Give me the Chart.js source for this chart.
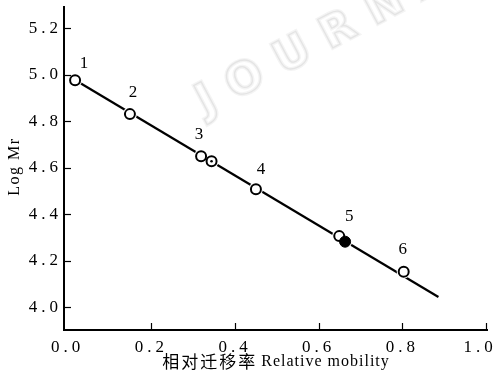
<!DOCTYPE html>
<html>
<head>
<meta charset="utf-8">
<script src="https://cdn.jsdelivr.net/npm/chart.js@4.4.1/dist/chart.umd.min.js"></script>
<style>
  html, body { margin: 0; padding: 0; background: #ffffff; }
  #wrap { width: 496px; height: 381px; }
</style>
</head>
<body>
<div id="wrap"><canvas id="c" width="496" height="381"></canvas></div>
<script>
// ---- data ----
const xTickValues = [0.0, 0.2, 0.4, 0.6, 0.8, 1.0];
const yTickValues = [4.0, 4.2, 4.4, 4.6, 4.8, 5.0, 5.2];
const mobility = [0.018, 0.149, 0.319, 0.344, 0.450, 0.649, 0.663, 0.803];
const logMr    = [4.977, 4.831, 4.650, 4.628, 4.508, 4.306, 4.282, 4.153];
const markerKind = ['open', 'open', 'open', 'dot', 'open', 'open', 'filled', 'open'];
const fitX = [0.005, 0.886];
const fitY = [4.992, 4.044];
const pointLabelText  = ['1', '2', '3', '4', '5', '6'];
const pointLabelIndex = [0, 1, 2, 4, 5, 7];
const xTitleCJK = '相对迁移率';
const xTitleLatin = 'Relative mobility';
const yTitle = 'Log Mr';
const watermark = 'JOURNAL';

// ---- styling (not data) ----
const labelOffsets = [[9, -17], [3, -22], [-2, -22], [5, -20], [10, -20], [-1, -22]];
const serif = "'Liberation Serif', 'Times New Roman', serif";

const allPts = mobility.map((x, i) => ({ x: x, y: logMr[i] }));
const openPts = allPts.filter((p, i) => markerKind[i] !== 'filled');
const filledPts = allPts.filter((p, i) => markerKind[i] === 'filled');
const dotPts = allPts.filter((p, i) => markerKind[i] === 'dot');
const fitPts = fitX.map((x, i) => ({ x: x, y: fitY[i] }));

const decorPlugin = {
  id: 'decor',
  beforeDraw(chart) {
    const ctx = chart.ctx;
    // keep the last x tick label inside the canvas, as in the reference
    const items = chart.scales.x.getLabelItems();
    if (items.length) {
      const last = items[items.length - 1];
      if (!last._shifted && last.options && last.options.translation) {
        last.options.translation[0] -= 6;
        last._shifted = true;
      }
    }
    // faint watermark
    ctx.save();
    ctx.translate(210, 95);
    ctx.rotate(-28 * Math.PI / 180);
    ctx.font = "bold 44px 'DejaVu Sans', sans-serif";
    ctx.letterSpacing = '17px';
    ctx.textBaseline = 'alphabetic';
    ctx.strokeStyle = '#f4f4f4';
    ctx.lineWidth = 4;
    ctx.strokeText(watermark, -14, 16);
    ctx.strokeStyle = '#e4e4e4';
    ctx.lineWidth = 1.3;
    ctx.strokeText(watermark, -14, 16);
    ctx.restore();
    ctx.letterSpacing = '4px';
  },
  beforeDatasetsDraw(chart) {
    chart.ctx.letterSpacing = '0px';
  },
  afterDraw(chart) {
    const ctx = chart.ctx;
    const xs = chart.scales.x, ys = chart.scales.y;
    const area = chart.chartArea;
    ctx.save();
    ctx.letterSpacing = '0px';
    ctx.strokeStyle = '#000';
    ctx.lineWidth = 1.2;
    // inward ticks
    ys.ticks.forEach(t => {
      const py = Math.round(ys.getPixelForValue(t.value)) + 0.5;
      ctx.beginPath(); ctx.moveTo(area.left, py); ctx.lineTo(area.left + 7, py); ctx.stroke();
    });
    xs.ticks.forEach(t => {
      if (t.value === 0) return;
      const px = Math.round(xs.getPixelForValue(t.value)) + 0.5;
      ctx.beginPath(); ctx.moveTo(px, area.bottom); ctx.lineTo(px, area.bottom - 7); ctx.stroke();
    });
    // point labels
    ctx.fillStyle = '#000';
    ctx.font = '17px ' + serif;
    ctx.textAlign = 'center';
    ctx.textBaseline = 'middle';
    pointLabelIndex.forEach((idx, k) => {
      const px = xs.getPixelForValue(mobility[idx]) + labelOffsets[k][0];
      const py = ys.getPixelForValue(logMr[idx]) + labelOffsets[k][1];
      ctx.fillText(pointLabelText[k], px, py);
    });
    // x title
    ctx.textAlign = 'left';
    ctx.font = "17px 'Noto Sans CJK SC', sans-serif";
    ctx.letterSpacing = '2px';
    const wC = ctx.measureText(xTitleCJK).width;
    ctx.font = '16px ' + serif;
    ctx.letterSpacing = '1px';
    const wL = ctx.measureText(xTitleLatin).width;
    const gap = 4;
    const total = wC + gap + wL;
    const cx = 276, cy = 362;
    let sx = cx - total / 2;
    ctx.font = "17px 'Noto Sans CJK SC', sans-serif";
    ctx.letterSpacing = '2px';
    ctx.fillText(xTitleCJK, sx, cy);
    ctx.font = '16px ' + serif;
    ctx.letterSpacing = '1px';
    ctx.fillText(xTitleLatin, sx + wC + gap, cy);
    // y title
    ctx.save();
    ctx.translate(14.5, 167.5);
    ctx.rotate(-Math.PI / 2);
    ctx.textAlign = 'center';
    ctx.font = '16px ' + serif;
    ctx.letterSpacing = '1.5px';
    ctx.fillText(yTitle, 1, 0);
    ctx.restore();
    ctx.restore();
  }
};

new Chart(document.getElementById('c'), {
  type: 'scatter',
  data: {
    datasets: [
      { label: 'fit', data: fitPts, showLine: true, borderColor: '#000', borderWidth: 2.2,
        pointRadius: 0, pointHoverRadius: 0, order: 4 },
      { label: 'halo', data: allPts, pointRadius: 7, backgroundColor: '#fff', borderWidth: 0,
        pointBorderColor: 'rgba(0,0,0,0)', order: 3 },
      { label: 'open', data: openPts, pointRadius: 5, pointBackgroundColor: '#fff',
        pointBorderColor: '#000', pointBorderWidth: 2, order: 2 },
      { label: 'filled', data: filledPts, pointRadius: 5.5, pointBackgroundColor: '#000',
        pointBorderColor: '#000', pointBorderWidth: 1, order: 1 },
      { label: 'dot', data: dotPts, pointRadius: 1.3, pointBackgroundColor: '#000',
        pointBorderColor: '#000', pointBorderWidth: 0, order: 0 }
    ]
  },
  options: {
    responsive: false,
    animation: false,
    events: [],
    layout: { padding: { top: 4, right: 9, left: 0, bottom: 0 } },
    plugins: { legend: { display: false }, tooltip: { enabled: false } },
    scales: {
      x: {
        type: 'linear', min: -0.0085, max: 1.002,
        afterBuildTicks: s => { s.ticks = xTickValues.map(v => ({ value: v })); },
        afterFit: s => { s.height = 51; s.paddingLeft = 0; s.paddingRight = 0; },
        grid: { display: false, drawTicks: false },
        border: { display: true, color: '#000', width: 2 },
        ticks: { padding: 7, color: '#000', font: { family: serif, size: 17 },
          maxRotation: 0, autoSkip: false, callback: v => Number(v).toFixed(1) }
      },
      y: {
        type: 'linear', min: 3.902, max: 5.292,
        afterBuildTicks: s => { s.ticks = yTickValues.map(v => ({ value: v })); },
        afterFit: s => { s.width = 64; s.paddingTop = 0; s.paddingBottom = 0; },
        grid: { display: false, drawTicks: false },
        border: { display: true, color: '#000', width: 2 },
        ticks: { padding: 2, color: '#000', font: { family: serif, size: 17 },
          autoSkip: false, callback: v => Number(v).toFixed(1) }
      }
    }
  },
  plugins: [decorPlugin]
});
</script>
</body>
</html>
